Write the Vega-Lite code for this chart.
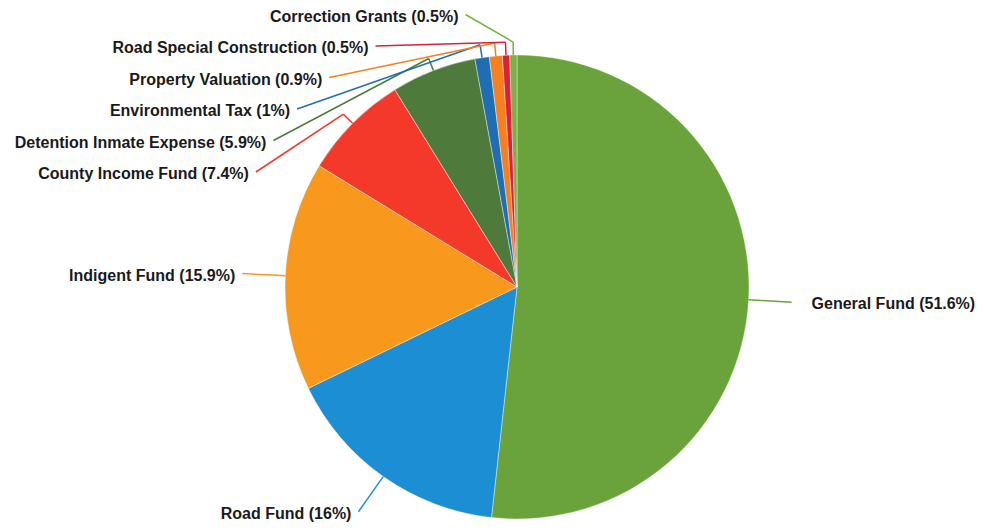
{
  "$schema": "https://vega.github.io/schema/vega-lite/v6.json",
  "autosize": {"type": "none"},
  "padding": {"left": 50, "top": 43, "right": 0, "bottom": 0},
  "width": 934,
  "height": 488,
  "background": "white",
  "view": {"stroke": null},
  "data": {"values": [
    {"fund": "General Fund", "pct": 51.6, "order": 1},
    {"fund": "Road Fund", "pct": 16, "order": 2},
    {"fund": "Indigent Fund", "pct": 15.9, "order": 3},
    {"fund": "County Income Fund", "pct": 7.4, "order": 4},
    {"fund": "Detention Inmate Expense", "pct": 5.9, "order": 5},
    {"fund": "Environmental Tax", "pct": 1, "order": 6},
    {"fund": "Property Valuation", "pct": 0.9, "order": 7},
    {"fund": "Road Special Construction", "pct": 0.5, "order": 8},
    {"fund": "Correction Grants", "pct": 0.5, "order": 9}
  ]},
  "transform": [
    {"joinaggregate": [{"op": "sum", "field": "pct", "as": "total"}]},
    {"window": [{"op": "sum", "field": "pct", "as": "cum"}], "sort": [{"field": "order"}], "frame": [null, 0]},
    {"calculate": "2*PI*(datum.cum - datum.pct/2)/datum.total", "as": "mid"},
    {"calculate": "datum.fund + ' (' + datum.pct + '%)'", "as": "label"},
    {"calculate": "232*sin(datum.mid)", "as": "ex"},
    {"calculate": "232*cos(datum.mid)", "as": "ey"},
    {"calculate": "245*sin(datum.mid)", "as": "bx"},
    {"calculate": "245*cos(datum.mid)", "as": "by"},
    {"calculate": "datum.order <= 3 ? 275*cos(datum.mid) : 115 + (datum.order-4)*31.5", "as": "ay"},
    {"calculate": "datum.order <= 3 ? 275*sin(datum.mid) : -287*sqrt(max(0, 1 - pow(datum.ay/277, 2)))", "as": "ax"},
    {"calculate": "datum.ax < 0 ? 'left' : 'right'", "as": "side"}
  ],
  "layer": [
    {
      "mark": {"type": "arc", "outerRadius": 232, "stroke": "white", "strokeWidth": 0.4},
      "encoding": {
        "theta": {"field": "pct", "type": "quantitative", "stack": true},
        "order": {"field": "order", "type": "quantitative"},
        "color": {
          "field": "fund", "type": "nominal", "legend": null,
          "scale": {
            "domain": ["General Fund", "Road Fund", "Indigent Fund", "County Income Fund", "Detention Inmate Expense", "Environmental Tax", "Property Valuation", "Road Special Construction", "Correction Grants"],
            "range": ["#6aa23c", "#1c8fd4", "#f8991e", "#f4382a", "#4e7a3c", "#1f6eb3", "#f6801f", "#d8213b", "#7ab044"]
          }
        }
      }
    },
    {
      "mark": {"type": "rule", "strokeWidth": 1.5},
      "encoding": {
        "x": {"field": "ex", "type": "quantitative", "scale": {"domain": [-467, 467], "nice": false, "zero": false}, "axis": null},
        "y": {"field": "ey", "type": "quantitative", "scale": {"domain": [-244, 244], "nice": false, "zero": false}, "axis": null},
        "x2": {"field": "bx"},
        "y2": {"field": "by"},
        "color": {"field": "fund", "type": "nominal", "legend": null}
      }
    },
    {
      "mark": {"type": "rule", "strokeWidth": 1.5},
      "encoding": {
        "x": {"field": "bx", "type": "quantitative", "axis": null},
        "y": {"field": "by", "type": "quantitative", "axis": null},
        "x2": {"field": "ax"},
        "y2": {"field": "ay"},
        "color": {"field": "fund", "type": "nominal", "legend": null}
      }
    },
    {
      "transform": [{"filter": "datum.side == 'left'"}],
      "mark": {"type": "text", "align": "right", "baseline": "middle", "dx": -7, "dy": 2, "font": "Liberation Sans", "fontWeight": "bold", "fontSize": 16, "fill": "#1a1a1a"},
      "encoding": {
        "x": {"field": "ax", "type": "quantitative", "axis": null},
        "y": {"field": "ay", "type": "quantitative", "axis": null},
        "text": {"field": "label"}
      }
    },
    {
      "transform": [{"filter": "datum.side == 'right'"}],
      "mark": {"type": "text", "align": "left", "baseline": "middle", "dx": 20, "dy": 2, "font": "Liberation Sans", "fontWeight": "bold", "fontSize": 16, "fill": "#1a1a1a"},
      "encoding": {
        "x": {"field": "ax", "type": "quantitative", "axis": null},
        "y": {"field": "ay", "type": "quantitative", "axis": null},
        "text": {"field": "label"}
      }
    }
  ]
}
